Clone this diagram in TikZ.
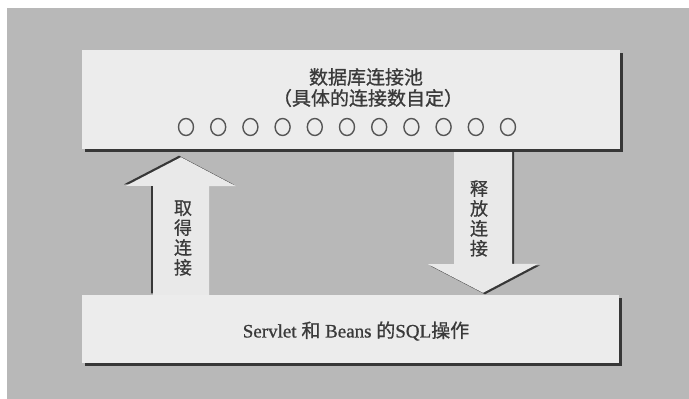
\documentclass[tikz,border=0pt]{standalone}
\usepackage{fontspec}
\setmainfont{Liberation Serif}[FakeBold=0.8]
\newfontfamily\cjk{Noto Sans CJK SC}[FakeBold=0.8]
\usetikzlibrary{shadows,calc,shapes.geometric}
\definecolor{bggray}{RGB}{184,184,184}
\definecolor{boxfill}{RGB}{236,236,236}
\definecolor{arrowfill}{RGB}{233,233,233}
\definecolor{inkc}{RGB}{58,58,58}
\definecolor{shadowc}{RGB}{55,55,55}
\definecolor{ringc}{RGB}{85,85,85}
\begin{document}
\begin{tikzpicture}[x=1pt,y=-1pt,
  panel/.style={fill=boxfill,draw=none,inner sep=0pt,
    drop shadow={shadow xshift=2.5pt,shadow yshift=-2.5pt,fill=shadowc,opacity=1}},
  ring/.style={ellipse,draw=ringc,line width=1.4pt,minimum width=15pt,minimum height=17pt,inner sep=0pt},
  cjktext/.style={text=inkc,inner sep=0pt,font=\cjk\fontsize{19}{19}\selectfont},
  vlabel/.style={text=inkc,inner sep=0pt,align=center,font=\cjk\fontsize{18}{19.9}\selectfont},
  arrowbody/.style={fill=arrowfill,draw=none},
  arrowshade/.style={fill=shadowc,draw=none}
]
% page and background
\fill[white] (0,0) rectangle (689,399);
\fill[bggray] (7,8) rectangle (689,399);
\useasboundingbox (0,0) rectangle (689,399);

% box positions (placed first as invisible anchors)
\path (351,99.5) coordinate (poolc);
\path (350.5,329) coordinate (opsc);
\node[minimum width=538pt,minimum height=99pt,inner sep=0pt] (poolref) at (poolc) {};
\node[minimum width=537pt,minimum height=68pt,inner sep=0pt] (opsref) at (opsc) {};

% up arrow (get connection)
\path (opsref.north) ++(-197.5,0) coordinate (uBL) ++(56,0) coordinate (uBR);
\path (poolref.south) ++(-170,8) coordinate (uTip);
\def\uppath{(uBL) -- ++(0,-109) -- ++(-27,0) -- (uTip) -- ++(55,29) -- ++(-27,0) -- (uBR) -- cycle}
\fill[arrowshade,transform canvas={xshift=-2pt,yshift=1.5pt}] \uppath;
\fill[arrowbody] \uppath;

% down arrow (release connection)
\path (poolref.south) ++(103,0) coordinate (dTL) ++(58,0) coordinate (dTR);
\path (opsref.north) ++(132.5,-2) coordinate (dTip);
\def\downpath{(dTL) -- ++(0,115) -- ++(-26,0) -- (dTip) -- ++(55,-29) -- ++(-26,0) -- (dTR) -- cycle}
\fill[arrowshade,transform canvas={xshift=2pt,yshift=-1.5pt}] \downpath;
\fill[arrowbody] \downpath;

% boxes
\node[panel,minimum width=538pt,minimum height=99pt] (pool) at (poolc) {};
\node[panel,minimum width=537pt,minimum height=68pt] (ops) at (opsc) {};

% texts in top box
\node[cjktext] (title) at (366,77) {数据库连接池};
\node[cjktext] (sub) at (368,98) {（具体的连接数自定）};
\foreach \i in {0,...,10} {
  \node[ring] (c\i) at (186+32.2*\i,127) {};
}

% arrow labels
\node[vlabel] (get) at (183,238) {取\\得\\连\\接};
\node[vlabel] (rel) at (479,218.5) {释\\放\\连\\接};

% bottom text
\node[text=inkc,inner sep=0pt,font=\fontsize{19}{19}\selectfont] (optext) at (356,331)
  {Servlet {\cjk 和} Beans {\cjk 的}SQL{\cjk 操作}};
\end{tikzpicture}
\end{document}
